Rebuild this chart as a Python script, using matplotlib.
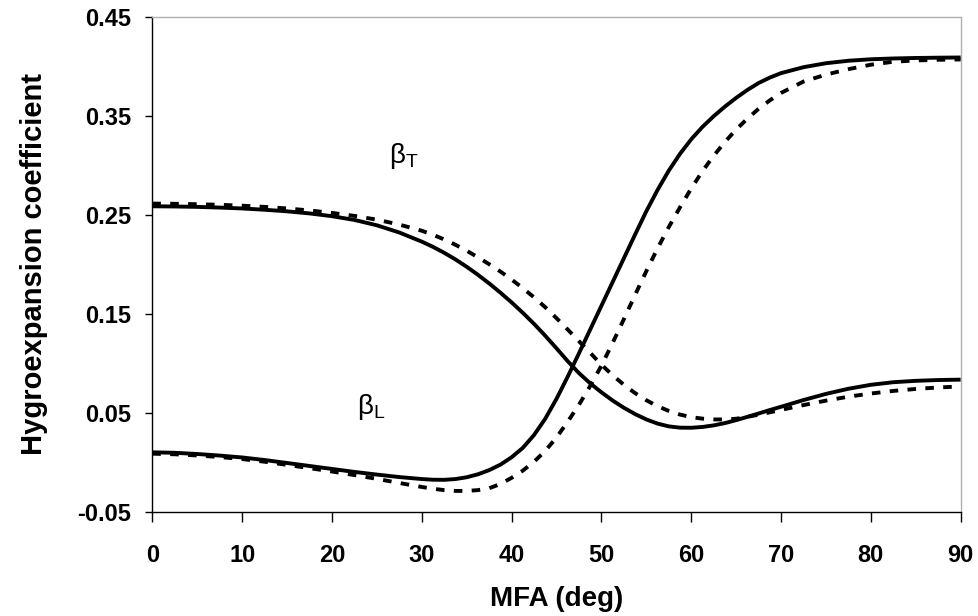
import matplotlib
matplotlib.use("Agg")
import matplotlib.pyplot as plt

# MFA angle (deg), finer spacing where the curves bend
mfa = [0, 2.5, 5, 7.5, 10, 12.5, 15, 17.5, 20, 22.5, 25, 27.5, 30,
       31.25, 32.5, 33.75, 35, 36.25, 37.5, 38.75, 40, 41.25, 42.5, 43.75, 45,
       46.25, 47.5, 48.75, 50, 51.25, 52.5, 53.75, 55, 56.25, 57.5, 58.75, 60,
       61.25, 62.5, 63.75, 65, 66.25, 67.5, 68.75, 70,
       72.5, 75, 77.5, 80, 82.5, 85, 87.5, 90]

# beta_T: solid / dashed
beta_t_solid = [0.2585, 0.2583, 0.2579, 0.2572, 0.2563, 0.2550, 0.2534, 0.2513, 0.2485,
                0.2447, 0.2393, 0.2320, 0.2228,
                0.2175, 0.2115, 0.2048, 0.1974, 0.1893, 0.1806, 0.1713, 0.1614, 0.1509,
                0.1397, 0.1277, 0.1150, 0.1020, 0.0900, 0.0797, 0.0706, 0.0623, 0.0550,
                0.0486, 0.0432, 0.0390, 0.0362, 0.0349, 0.0348, 0.0356, 0.0372, 0.0395,
                0.0425, 0.0458, 0.0492, 0.0527, 0.0560,
                0.0628, 0.0690, 0.0742, 0.0782, 0.0808, 0.0822, 0.0830, 0.0834]
beta_t_dash = [0.2612, 0.2610, 0.2606, 0.2600, 0.2591, 0.2579, 0.2563, 0.2543, 0.2518,
               0.2488, 0.2450, 0.2400, 0.2338,
               0.2297, 0.2250, 0.2196, 0.2136, 0.2070, 0.2000, 0.1926, 0.1845, 0.1758,
               0.1665, 0.1565, 0.1455, 0.1340, 0.1222, 0.1105, 0.0985, 0.0878, 0.0782,
               0.0698, 0.0626, 0.0566, 0.0518, 0.0481, 0.0455, 0.0440, 0.0432, 0.0432,
               0.0439, 0.0458, 0.0480, 0.0504, 0.0528,
               0.0577, 0.0622, 0.0662, 0.0694, 0.0720, 0.0740, 0.0755, 0.0765]

# beta_L: solid / dashed
beta_l_solid = [0.0100, 0.0095, 0.0083, 0.0067, 0.0048, 0.0022, -0.0008, -0.0038, -0.0068,
                -0.0098, -0.0125, -0.0150, -0.0170,
                -0.0177, -0.0178, -0.0170, -0.0152, -0.0122, -0.0080, -0.0025, 0.0050,
                0.0145, 0.0275, 0.0440, 0.0640, 0.0865, 0.1100, 0.1340, 0.1580, 0.1820,
                0.2060, 0.2300, 0.2535, 0.2750, 0.2945, 0.3115, 0.3262, 0.3387, 0.3495,
                0.3592, 0.3680, 0.3760, 0.3830, 0.3885, 0.3930,
                0.3990, 0.4030, 0.4055, 0.4070, 0.4078, 0.4083, 0.4086, 0.4088]
beta_l_dash = [0.0086, 0.0080, 0.0068, 0.0052, 0.0032, 0.0005, -0.0027, -0.0060, -0.0094,
               -0.0130, -0.0168, -0.0210, -0.0250,
               -0.0268, -0.0282, -0.0290, -0.0290, -0.0282, -0.0263, -0.0220, -0.0158,
               -0.0085, 0.0005, 0.0115, 0.0250, 0.0410, 0.0580, 0.0770, 0.0975, 0.1205,
               0.1445, 0.1690, 0.1930, 0.2160, 0.2375, 0.2575, 0.2765, 0.2940, 0.3095,
               0.3235, 0.3360, 0.3470, 0.3570, 0.3655, 0.3730,
               0.3845, 0.3915, 0.3970, 0.4015, 0.4045, 0.4058, 0.4065, 0.4068]

xticks = [0, 10, 20, 30, 40, 50, 60, 70, 80, 90]
yticks = [-0.05, 0.05, 0.15, 0.25, 0.35, 0.45]

plt.rcParams['font.family'] = ['Liberation Sans', 'DejaVu Sans']
plt.rcParams['mathtext.fontset'] = 'custom'
plt.rcParams['mathtext.rm'] = 'Liberation Sans'
plt.rcParams['mathtext.it'] = 'Liberation Sans'

fig = plt.figure(figsize=(9.79, 6.16), dpi=100)
ax = fig.add_axes([0.1556, 0.1693, 0.8257, 0.8036])

lw = 2.8
dash = (0, (2.2, 2.4))
ax.plot(mfa, beta_t_solid, color='black', lw=lw, solid_capstyle='butt', solid_joinstyle='round')
ax.plot(mfa, beta_t_dash, color='black', lw=lw, linestyle=dash, dash_capstyle='butt')
ax.plot(mfa, beta_l_solid, color='black', lw=lw, solid_capstyle='butt', solid_joinstyle='round')
ax.plot(mfa, beta_l_dash, color='black', lw=lw, linestyle=dash, dash_capstyle='butt')

ax.text(26.3, 0.302, r'$\mathrm{\beta_T}$', fontsize=20)
ax.text(22.8, 0.049, r'$\mathrm{\beta_L}$', fontsize=20)

ax.set_xlim(0, 90)
ax.set_ylim(-0.05, 0.45)
ax.set_xticks(xticks)
ax.set_yticks(yticks)
ax.set_xticklabels([str(v) for v in xticks], fontsize=17, fontweight='bold')
ax.set_yticklabels(['%.2f' % v for v in yticks], fontsize=17, fontweight='bold')
ax.tick_params(axis='x', direction='out', length=7, width=1, pad=16)
ax.tick_params(axis='y', direction='out', length=5, width=1, pad=10)

ax.set_xlabel('MFA (deg)', fontsize=20, fontweight='bold', labelpad=14)
ax.set_ylabel('Hygroexpansion coefficient', fontsize=21, fontweight='bold', labelpad=21)

for side in ['top', 'right']:
    ax.spines[side].set_color('#b0b0b0')
    ax.spines[side].set_linewidth(1)
for side in ['left', 'bottom']:
    ax.spines[side].set_color('black')
    ax.spines[side].set_linewidth(1)

fig.savefig('out.png', dpi=100)
